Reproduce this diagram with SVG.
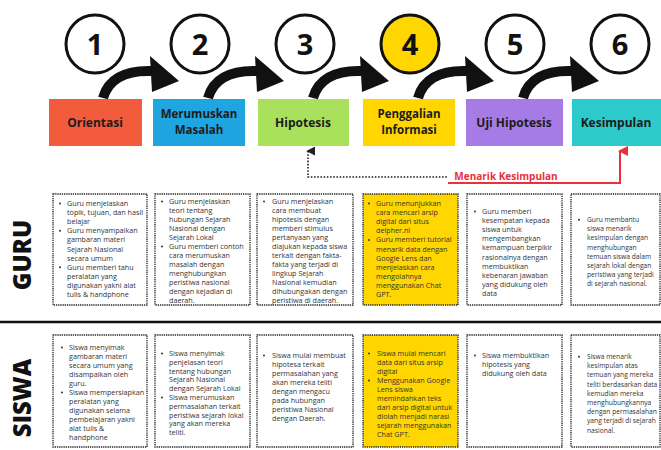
<svg xmlns="http://www.w3.org/2000/svg" width="661" height="450" viewBox="0 0 661 450">
  <style>
    .c { fill: #fff; stroke: #111; stroke-width: 3; }
    .num { font-family: "Open Sans", "DejaVu Sans", sans-serif; font-weight: 700; font-size: 29px; fill: #111; text-anchor: middle; }
    .lbl { font-family: "Open Sans", "DejaVu Sans", sans-serif; font-weight: 700; font-size: 12px; fill: #1c1c1c; text-anchor: middle; }
    .lbl2 { font-family: "Open Sans", "DejaVu Sans", sans-serif; font-weight: 700; font-size: 11.5px; fill: #1c1c1c; text-anchor: middle; }
    .box { fill: #fff; stroke: #222; stroke-width: 1.3; stroke-dasharray: 1.3 0.9; }
    .box.hl { fill: #ffd600; }
    .t { font-family: "Open Sans", "DejaVu Sans", sans-serif; font-size: 7.2px; fill: #333; }
    .t.s { font-size: 6.7px; }
    .b { fill: #333; }
    .side { font-family: "Open Sans", "DejaVu Sans", sans-serif; font-weight: 800; font-size: 24px; fill: #111; text-anchor: middle; }
    .dot { fill: none; stroke: #222; stroke-width: 1.6; stroke-dasharray: 1.6 1.6; }
    .red { fill: none; stroke: #e8313a; stroke-width: 2; }
  </style>
  <defs>
    <g id="sweep">
      <path d="M103,98 C108,80 124,70 152,71" fill="none" stroke="#111" stroke-width="10"/>
      <polygon points="150,56 179,81 152,92" fill="#111"/>
    </g>
    <marker id="upBlack" viewBox="0 0 10 10" refX="5" refY="2" markerWidth="9" markerHeight="9" markerUnits="userSpaceOnUse" orient="auto-start-reverse">
      <path d="M0,10 L5,0 L10,10 Z" fill="#222"/>
    </marker>
    <marker id="upRed" viewBox="0 0 10 10" refX="5" refY="2" markerWidth="10" markerHeight="10" markerUnits="userSpaceOnUse" orient="auto-start-reverse">
      <path d="M0,10 L5,0 L10,10 Z" fill="#e8313a"/>
    </marker>
  </defs>

  <!-- step circles -->
  <g id="step1"><circle class="c" cx="95" cy="44" r="29"/><text class="num" x="95" y="55">1</text></g>
  <g id="step2"><circle class="c" cx="200" cy="44" r="29"/><text class="num" x="200" y="55">2</text></g>
  <g id="step3"><circle class="c" cx="305" cy="44" r="29"/><text class="num" x="305" y="55">3</text></g>
  <g id="step4"><circle class="c" cx="410" cy="44" r="29" style="fill:#ffd600"/><text class="num" x="410" y="55">4</text></g>
  <g id="step5"><circle class="c" cx="515" cy="44" r="29"/><text class="num" x="515" y="55">5</text></g>
  <g id="step6"><circle class="c" cx="620" cy="44" r="29"/><text class="num" x="620" y="55">6</text></g>

  <!-- stage labels -->
  <g id="orientasi"><rect x="49" y="99" width="93" height="47" fill="#f25c3c"/><text class="lbl" x="95" y="127">Orientasi</text></g>
  <g id="merumuskan"><rect x="153" y="99" width="92" height="47" fill="#1fa5e0"/><text class="lbl2" x="199" y="118">Merumuskan</text><text class="lbl2" x="199" y="134">Masalah</text></g>
  <g id="hipotesis"><rect x="258" y="99" width="91" height="47" fill="#a9e15c"/><text class="lbl" x="303" y="127">Hipotesis</text></g>
  <g id="penggalian"><rect x="363" y="99" width="92" height="47" fill="#ffd600"/><text class="lbl2" x="409" y="118">Penggalian</text><text class="lbl2" x="409" y="134">Informasi</text></g>
  <g id="uji"><rect x="466" y="99" width="97" height="47" fill="#a67be6"/><text class="lbl" x="514" y="127">Uji Hipotesis</text></g>
  <g id="kesimpulan"><rect x="572" y="99" width="89" height="47" fill="#2ccaca"/><text class="lbl" x="616" y="127">Kesimpulan</text></g>

  <!-- connectors -->
  <g id="connectors">
    <use href="#sweep"/>
    <use href="#sweep" transform="translate(105,0)"/>
    <use href="#sweep" transform="translate(210,0)"/>
    <use href="#sweep" transform="translate(315,0)"/>
    <use href="#sweep" transform="translate(420,0)"/>
    <path class="dot" d="M308,151 V177 H448" marker-start="url(#upBlack)"/>
    <path class="red" d="M448,183 H620 V151" marker-end="url(#upRed)"/>
    <text x="506" y="180" font-family="Open Sans, DejaVu Sans, sans-serif" font-weight="700" font-size="10px" fill="#e8313a" text-anchor="middle">Menarik Kesimpulan</text>
  </g>

  <!-- row labels and divider -->
  <text class="side" transform="translate(31,255) rotate(-90)">GURU</text>
  <text class="side" transform="translate(31,398) rotate(-90)">SISWA</text>
  <line x1="0" y1="322" x2="661" y2="322" stroke="#111" stroke-width="2.5"/>

  <!-- GURU row -->
  <g id="guru1">
    <rect class="box" x="53" y="194" width="94" height="111"/>
    <text class="t" x="67" y="206">
      <tspan x="67" dy="0">Guru menjelaskan</tspan><tspan x="67" dy="9.1">topik, tujuan, dan hasil</tspan><tspan x="67" dy="9.1">belajar</tspan>
      <tspan x="67" dy="9.1">Guru menyampaikan</tspan><tspan x="67" dy="9.1">gambaran materi</tspan><tspan x="67" dy="9.1">Sejarah Nasional</tspan><tspan x="67" dy="9.1">secara umum</tspan>
      <tspan x="67" dy="9.1">Guru memberi tahu</tspan><tspan x="67" dy="9.1">peralatan yang</tspan><tspan x="67" dy="9.1">digunakan yakni alat</tspan><tspan x="67" dy="9.1">tulis &amp; handphone</tspan>
    </text>
    <circle class="b" cx="60" cy="203.5" r="1"/><circle class="b" cx="60" cy="230.8" r="1"/><circle class="b" cx="60" cy="267.2" r="1"/>
  </g>
  <g id="guru2">
    <rect class="box" x="155" y="194" width="95" height="111"/>
    <text class="t" x="169" y="204">
      <tspan x="169" dy="0">Guru menjelaskan</tspan><tspan x="169" dy="9">teori tentang</tspan><tspan x="169" dy="9">hubungan Sejarah</tspan><tspan x="169" dy="9">Nasional dengan</tspan><tspan x="169" dy="9">Sejarah Lokal</tspan>
      <tspan x="169" dy="9">Guru memberi contoh</tspan><tspan x="169" dy="9">cara merumuskan</tspan><tspan x="169" dy="9">masalah dengan</tspan><tspan x="169" dy="9">menghubungkan</tspan><tspan x="169" dy="9">peristiwa nasional</tspan><tspan x="169" dy="9">dengan kejadian di</tspan><tspan x="169" dy="9">daerah.</tspan>
    </text>
    <circle class="b" cx="162" cy="201.5" r="1"/><circle class="b" cx="162" cy="246.5" r="1"/>
  </g>
  <g id="guru3">
    <rect class="box" x="257" y="194" width="96" height="111"/>
    <text class="t" x="272" y="204">
      <tspan x="272" dy="0">Guru menjelaskan</tspan><tspan x="272" dy="9">cara membuat</tspan><tspan x="272" dy="9">hipotesis dengan</tspan><tspan x="272" dy="9">memberi stimulus</tspan><tspan x="272" dy="9">pertanyaan yang</tspan><tspan x="272" dy="9">diajukan kepada siswa</tspan><tspan x="272" dy="9">terkait dengan fakta-</tspan><tspan x="272" dy="9">fakta yang terjadi di</tspan><tspan x="272" dy="9">lingkup Sejarah</tspan><tspan x="272" dy="9">Nasional kemudian</tspan><tspan x="272" dy="9">dihubungakan dengan</tspan><tspan x="272" dy="9">peristiwa di daerah.</tspan>
    </text>
    <circle class="b" cx="264" cy="201.5" r="1"/>
  </g>
  <g id="guru4">
    <rect class="box hl" x="363" y="194" width="95" height="111"/>
    <text class="t" x="376" y="206">
      <tspan x="376" dy="0">Guru menunjukkan</tspan><tspan x="376" dy="9.1">cara mencari arsip</tspan><tspan x="376" dy="9.1">digital dari situs</tspan><tspan x="376" dy="9.1">delpher.nl</tspan>
      <tspan x="376" dy="9.1">Guru memberi tutorial</tspan><tspan x="376" dy="9.1">menarik data dengan</tspan><tspan x="376" dy="9.1">Google Lens dan</tspan><tspan x="376" dy="9.1">menjelaskan cara</tspan><tspan x="376" dy="9.1">mengolahnya</tspan><tspan x="376" dy="9.1">menggunakan Chat</tspan><tspan x="376" dy="9.1">GPT.</tspan>
    </text>
    <circle class="b" cx="369" cy="203.5" r="1"/><circle class="b" cx="369" cy="239.9" r="1"/>
  </g>
  <g id="guru5">
    <rect class="box" x="467" y="194" width="95" height="111"/>
    <text class="t" x="482" y="214">
      <tspan x="482" dy="0">Guru memberi</tspan><tspan x="482" dy="9.1">kesempatan kepada</tspan><tspan x="482" dy="9.1">siswa untuk</tspan><tspan x="482" dy="9.1">mengembangkan</tspan><tspan x="482" dy="9.1">kemampuan berpikir</tspan><tspan x="482" dy="9.1">rasionalnya dengan</tspan><tspan x="482" dy="9.1">membuktikan</tspan><tspan x="482" dy="9.1">kebenaran jawaban</tspan><tspan x="482" dy="9.1">yang didukung oleh</tspan><tspan x="482" dy="9.1">data</tspan>
    </text>
    <circle class="b" cx="475" cy="211.5" r="1"/>
  </g>
  <g id="guru6">
    <rect class="box" x="571" y="194" width="89" height="111"/>
    <text class="t s" x="587" y="222">
      <tspan x="587" dy="0">Guru membantu</tspan><tspan x="587" dy="9.2">siswa menarik</tspan><tspan x="587" dy="9.2">kesimpulan dengan</tspan><tspan x="587" dy="9.2">menghubungan</tspan><tspan x="587" dy="9.2">temuan siswa dalam</tspan><tspan x="587" dy="9.2">sejarah lokal dengan</tspan><tspan x="587" dy="9.2">peristiwa yang terjadi</tspan><tspan x="587" dy="9.2">di sejarah nasional.</tspan>
    </text>
    <circle class="b" cx="579" cy="219.7" r="1"/>
  </g>

  <!-- SISWA row -->
  <g id="siswa1">
    <rect class="box" x="53" y="335" width="94" height="112"/>
    <text class="t" x="69" y="350">
      <tspan x="69" dy="0">Siswa menyimak</tspan><tspan x="69" dy="9">gambaran materi</tspan><tspan x="69" dy="9">secara umum yang</tspan><tspan x="69" dy="9">disampaikan oleh</tspan><tspan x="69" dy="9">guru.</tspan>
      <tspan x="69" dy="9">Siswa mempersiapkan</tspan><tspan x="69" dy="9">peralatan yang</tspan><tspan x="69" dy="9">digunakan selama</tspan><tspan x="69" dy="9">pembelajaran yakni</tspan><tspan x="69" dy="9">alat tulis &amp;</tspan><tspan x="69" dy="9">handphone</tspan>
    </text>
    <circle class="b" cx="62" cy="347.5" r="1"/><circle class="b" cx="62" cy="392.5" r="1"/>
  </g>
  <g id="siswa2">
    <rect class="box" x="155" y="335" width="95" height="112"/>
    <text class="t" x="169" y="356">
      <tspan x="169" dy="0">Siswa menyimak</tspan><tspan x="169" dy="8.8">penjelasan teori</tspan><tspan x="169" dy="8.8">tentang hubungan</tspan><tspan x="169" dy="8.8">Sejarah Nasional</tspan><tspan x="169" dy="8.8">dengan Sejarah Lokal</tspan>
      <tspan x="169" dy="8.8">Siswa merumuskan</tspan><tspan x="169" dy="8.8">permasalahan terkait</tspan><tspan x="169" dy="8.8">peristiwa sejarah lokal</tspan><tspan x="169" dy="8.8">yang akan mereka</tspan><tspan x="169" dy="8.8">teliti.</tspan>
    </text>
    <circle class="b" cx="162" cy="353.5" r="1"/><circle class="b" cx="162" cy="397.5" r="1"/>
  </g>
  <g id="siswa3">
    <rect class="box" x="257" y="335" width="96" height="112"/>
    <text class="t" x="272" y="358">
      <tspan x="272" dy="0">Siswa mulai membuat</tspan><tspan x="272" dy="9">hipotesa terkait</tspan><tspan x="272" dy="9">permasalahan yang</tspan><tspan x="272" dy="9">akan mereka teliti</tspan><tspan x="272" dy="9">dengan mengacu</tspan><tspan x="272" dy="9">pada hubungan</tspan><tspan x="272" dy="9">peristiwa Nasional</tspan><tspan x="272" dy="9">dengan Daerah.</tspan>
    </text>
    <circle class="b" cx="264" cy="355.5" r="1"/>
  </g>
  <g id="siswa4">
    <rect class="box hl" x="363" y="335" width="95" height="112"/>
    <text class="t" x="377" y="356">
      <tspan x="377" dy="0">Siswa mulai mencari</tspan><tspan x="377" dy="9">data dari situs arsip</tspan><tspan x="377" dy="9">digital</tspan>
      <tspan x="377" dy="9">Menggunakan Google</tspan><tspan x="377" dy="9">Lens siswa</tspan><tspan x="377" dy="9">memindahkan teks</tspan><tspan x="377" dy="9">dari arsip digital untuk</tspan><tspan x="377" dy="9">diolah menjadi narasi</tspan><tspan x="377" dy="9">sejarah menggunakan</tspan><tspan x="377" dy="9">Chat GPT.</tspan>
    </text>
    <circle class="b" cx="369" cy="353.5" r="1"/><circle class="b" cx="369" cy="380.5" r="1"/>
  </g>
  <g id="siswa5">
    <rect class="box" x="467" y="335" width="95" height="112"/>
    <text class="t" x="482" y="358">
      <tspan x="482" dy="0">Siswa membuktikan</tspan><tspan x="482" dy="9">hipotesis yang</tspan><tspan x="482" dy="9">didukung oleh data</tspan>
    </text>
    <circle class="b" cx="475" cy="355.5" r="1"/>
  </g>
  <g id="siswa6">
    <rect class="box" x="571" y="335" width="89" height="112"/>
    <text class="t s" x="587" y="359">
      <tspan x="587" dy="0">Siswa menarik</tspan><tspan x="587" dy="9.2">kesimpulan atas</tspan><tspan x="587" dy="9.2">temuan yang mereka</tspan><tspan x="587" dy="9.2">teliti berdasarkan data</tspan><tspan x="587" dy="9.2">kemudian mereka</tspan><tspan x="587" dy="9.2">menghubungkannya</tspan><tspan x="587" dy="9.2">dengan permasalahan</tspan><tspan x="587" dy="9.2">yang terjadi di sejarah</tspan><tspan x="587" dy="9.2">nasional.</tspan>
    </text>
    <circle class="b" cx="579" cy="356.7" r="1"/>
  </g>
</svg>
